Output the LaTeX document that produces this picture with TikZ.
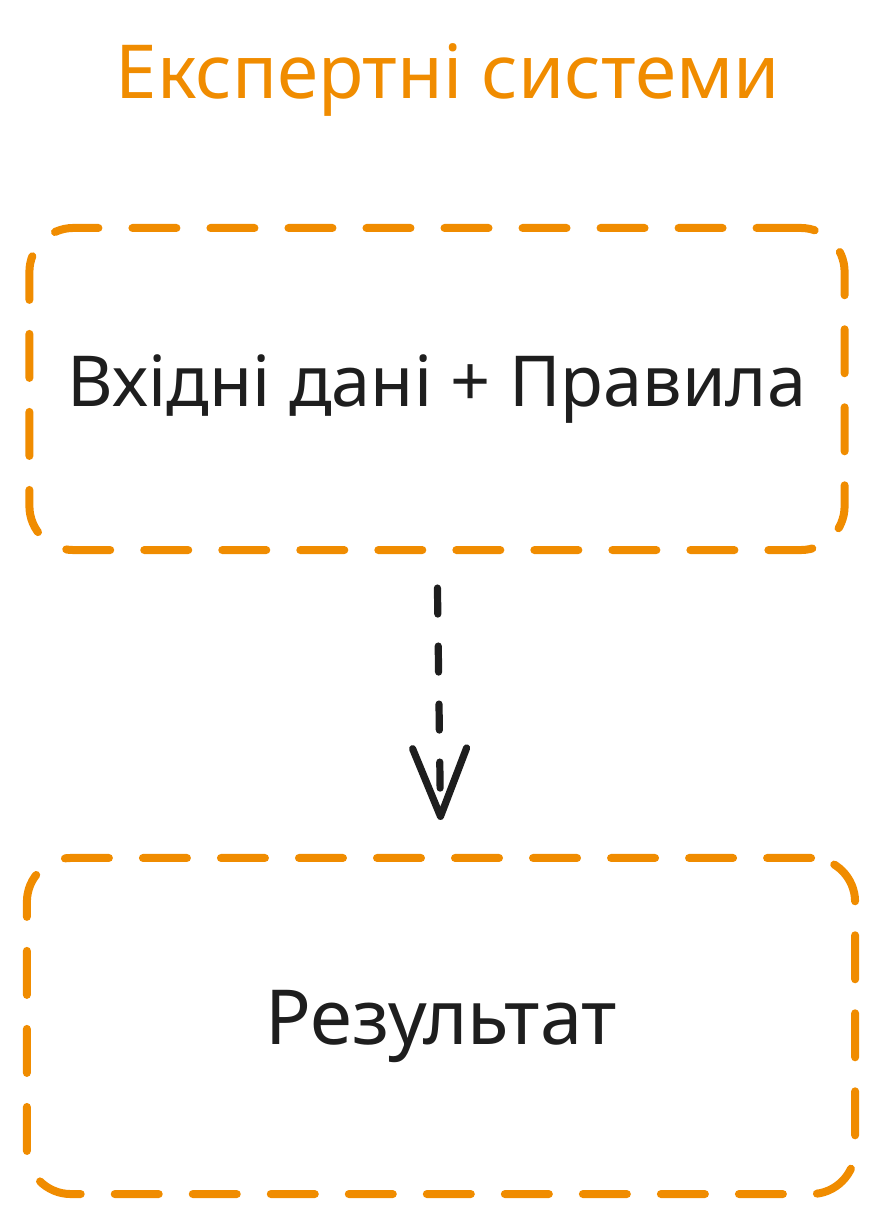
\documentclass[tikz,border=0pt]{standalone}
\usepackage{fontspec}
\setmainfont{Noto Sans}
\usetikzlibrary{positioning,arrows.meta}

\definecolor{sketchorange}{HTML}{F08C00}
\definecolor{sketchink}{HTML}{1E1E1E}

\tikzset{
  stagebox/.style={draw=sketchorange, line width=0.2cm, line cap=round,
    dash pattern=on 1.1cm off 0.85cm, rounded corners=1.1cm,
    text=sketchink, font=\fontsize{50}{56}\selectfont},
  flow/.style={draw=sketchink, line width=0.18cm, line cap=round,
    dash pattern=on 0.65cm off 0.8cm,
    -{Straight Barb[length=1.7cm,width=1.35cm,round]}}
}

\begin{document}
\begin{tikzpicture}[x=0.025cm,y=-0.025cm]
  \useasboundingbox (0,0) rectangle (876,1216);
  \node (title) at (448,80) [text=sketchorange, font=\fontsize{53}{58}\selectfont]
    {Експертні системи};
  \node (rules) at (437,389) [stagebox, minimum width=20.375cm, minimum height=8.05cm]
    {Вхідні дані + Правила};
  \node (result) at (441,1026) [stagebox, minimum width=20.7cm, minimum height=8.4cm,
    font=\fontsize{54}{60}\selectfont] {Результат};
  \draw[flow, shorten <=0.85cm, shorten >=0.85cm] (rules.south) -- (result.north);
\end{tikzpicture}
\end{document}
